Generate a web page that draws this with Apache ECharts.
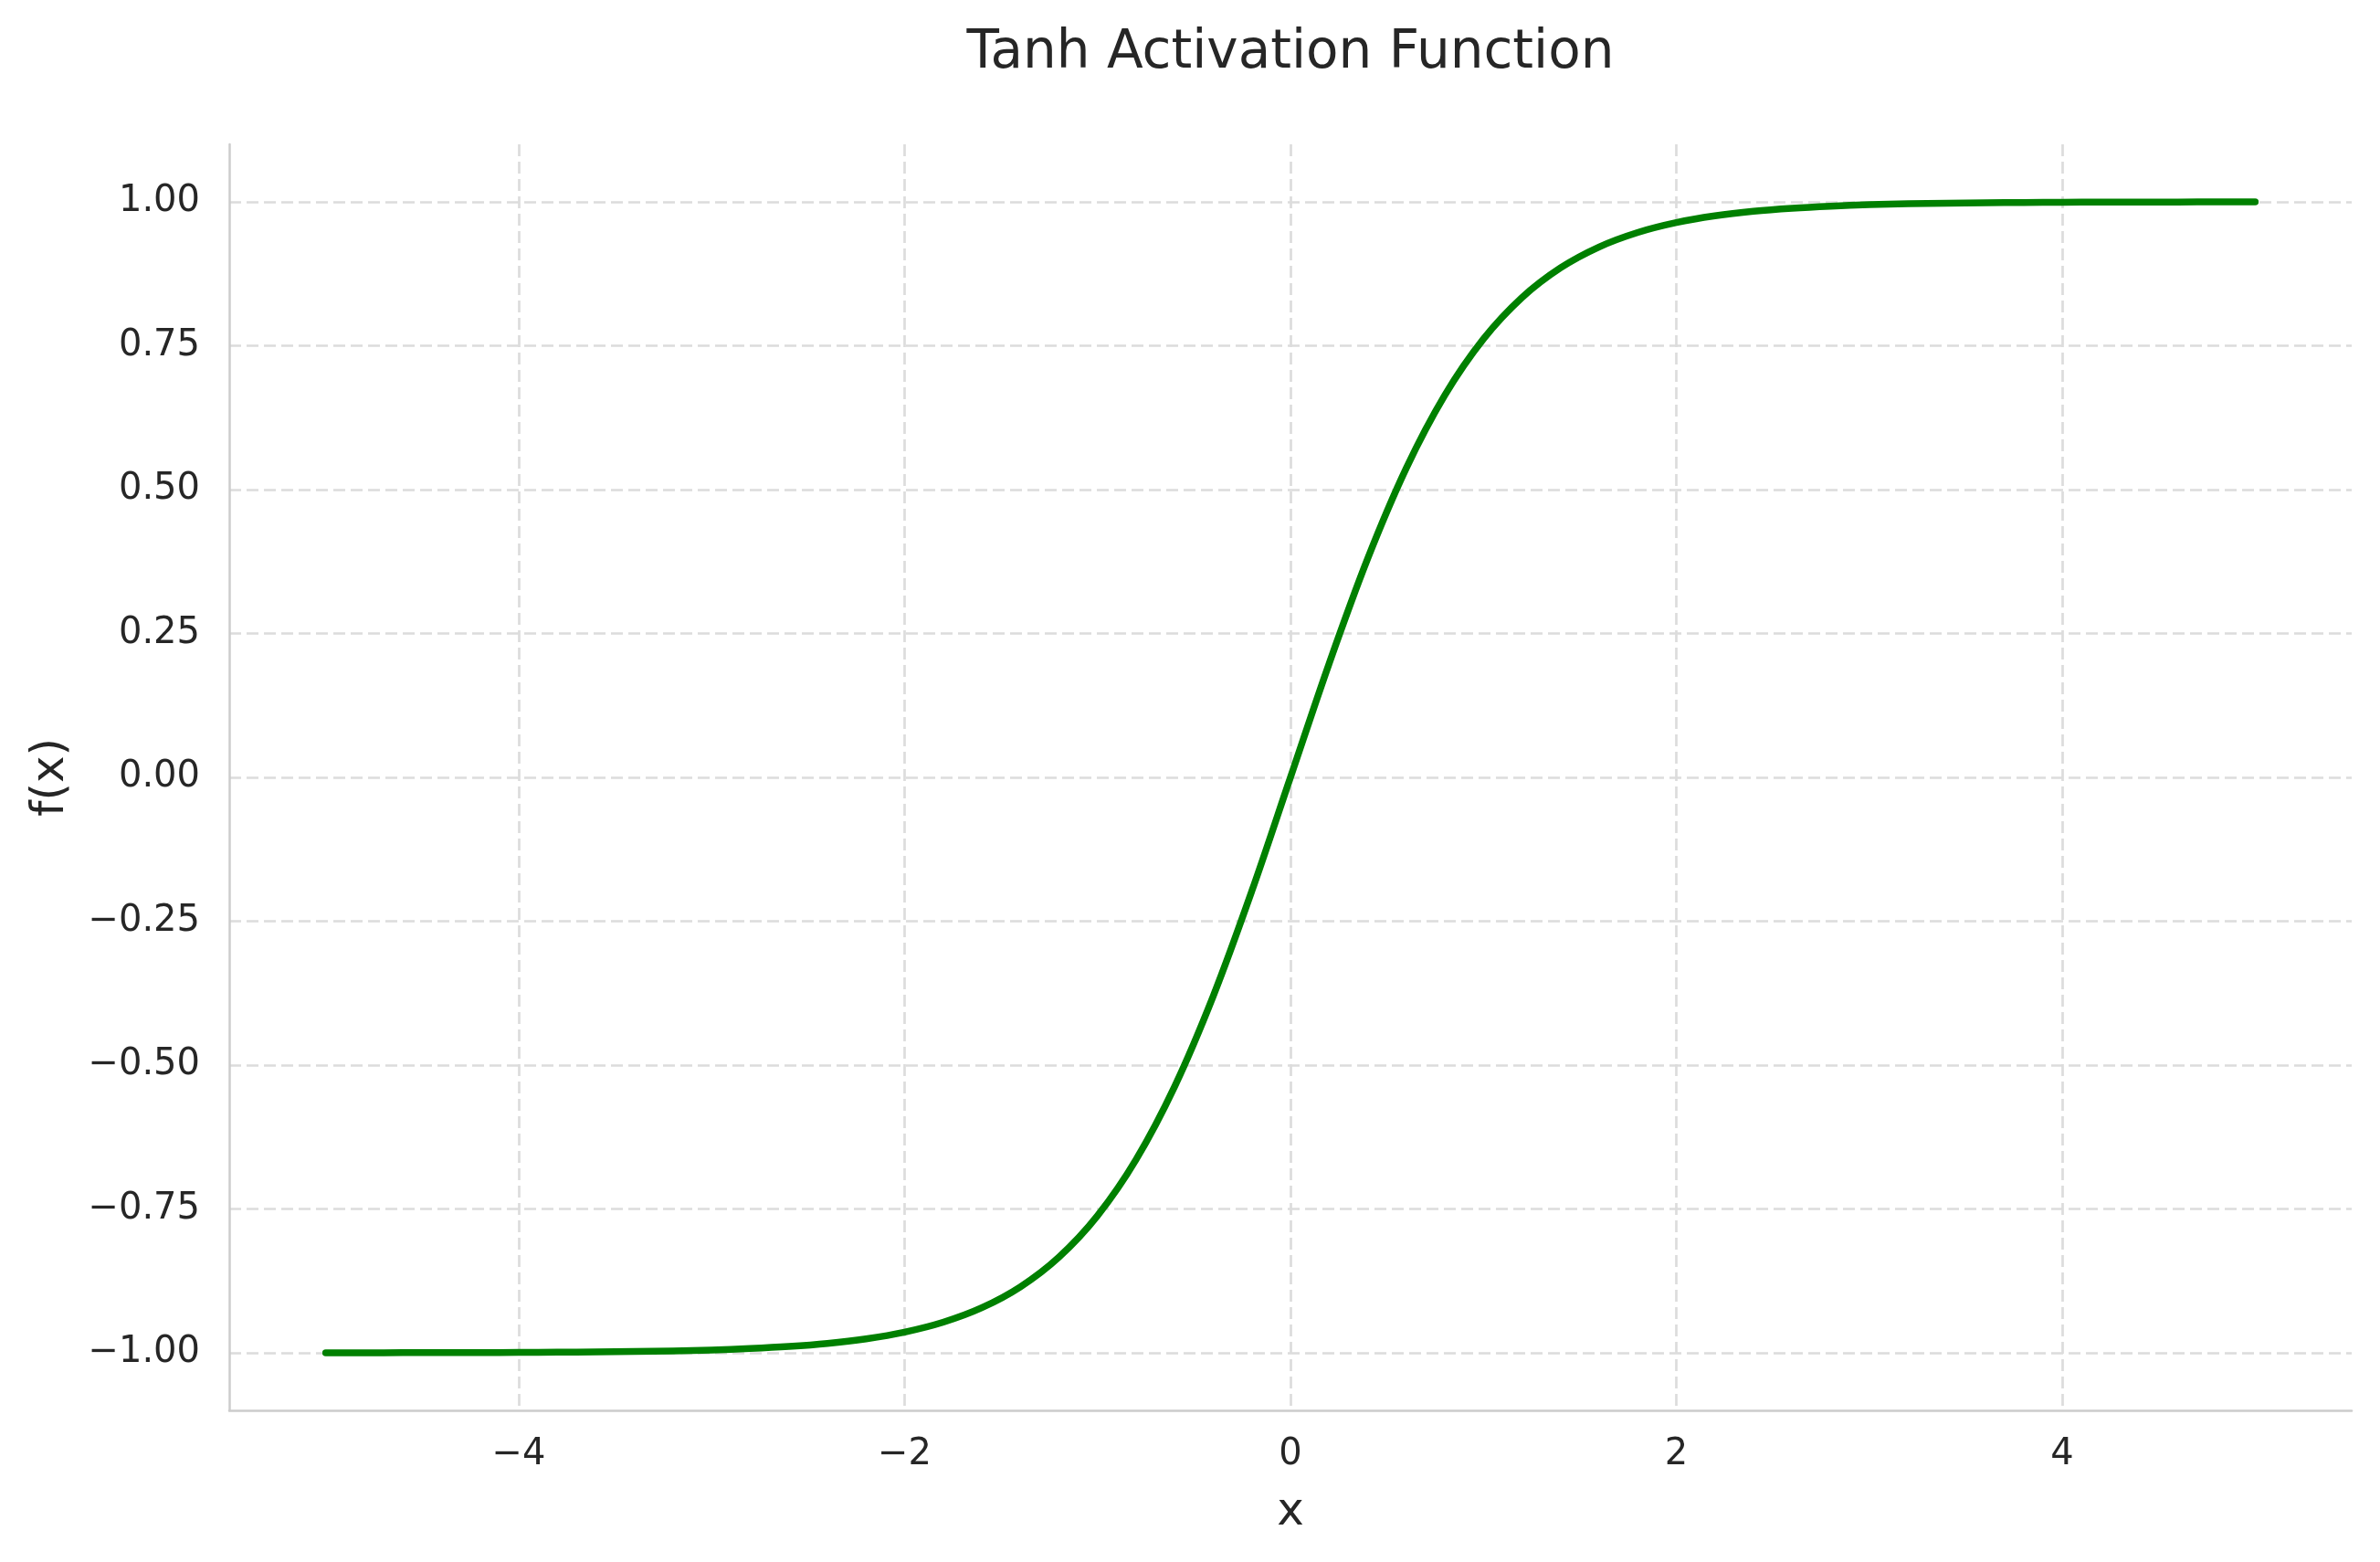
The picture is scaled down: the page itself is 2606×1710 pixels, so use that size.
<!DOCTYPE html>
<html>
<head>
<meta charset="utf-8">
<script src="https://cdn.jsdelivr.net/npm/echarts@6/dist/echarts.min.js"></script>
<style>
  html, body { margin: 0; padding: 0; background: #ffffff; }
  #chart { width: 2606px; height: 1710px; }
</style>
</head>
<body>
<div id="chart"></div>
<script>
// x positions
const xValues = [
  -5.0, -4.8, -4.6, -4.4, -4.2, -4.0, -3.8, -3.6, -3.4, -3.2,
  -3.0, -2.8, -2.6, -2.4, -2.2, -2.0, -1.8, -1.6, -1.4, -1.2,
  -1.0, -0.8, -0.6, -0.4, -0.2, 0.0, 0.2, 0.4, 0.6, 0.8,
  1.0, 1.2, 1.4, 1.6, 1.8, 2.0, 2.2, 2.4, 2.6, 2.8,
  3.0, 3.2, 3.4, 3.6, 3.8, 4.0, 4.2, 4.4, 4.6, 4.8, 5.0
];
// f(x) values
const fValues = [
  -0.9999, -0.9999, -0.9998, -0.9997, -0.9996, -0.9993, -0.9990, -0.9985, -0.9978, -0.9967,
  -0.9951, -0.9926, -0.9890, -0.9837, -0.9757, -0.9640, -0.9468, -0.9217, -0.8854, -0.8337,
  -0.7616, -0.6640, -0.5370, -0.3799, -0.1974, 0.0000, 0.1974, 0.3799, 0.5370, 0.6640,
  0.7616, 0.8337, 0.8854, 0.9217, 0.9468, 0.9640, 0.9757, 0.9837, 0.9890, 0.9926,
  0.9951, 0.9967, 0.9978, 0.9985, 0.9990, 0.9993, 0.9996, 0.9997, 0.9998, 0.9999, 0.9999
];
const xTicks = [-4, -2, 0, 2, 4];
const yTicks = [-1.0, -0.75, -0.5, -0.25, 0.0, 0.25, 0.5, 0.75, 1.0];

const titleText = 'Tanh Activation Function';
const xName = 'x';
const yName = 'f(x)';

const FONT = 'DejaVu Sans';
const TEXT = '#262626';
const minus = s => s.replace('-', '\u2212');

const points = xValues.map((x, i) => [x, fValues[i]]);

const chart = echarts.init(document.getElementById('chart'), null, { renderer: 'canvas' });
chart.setOption({
  backgroundColor: '#ffffff',
  animation: false,
  title: {
    text: titleText,
    left: 1408,
    top: 25,
    textAlign: 'center',
    textStyle: { fontFamily: FONT, fontSize: 58, fontWeight: 'normal', color: TEXT }
  },
  grid: { left: 251, right: 31, top: 158, bottom: 166, containLabel: false },
  xAxis: {
    type: 'value',
    min: -5.5,
    max: 5.5,
    name: xName,
    nameLocation: 'middle',
    nameGap: 87,
    nameTextStyle: { fontFamily: FONT, fontSize: 50, color: TEXT },
    axisLine: { show: true, onZero: false, lineStyle: { color: '#cccccc', width: 2.5 } },
    axisTick: { show: false, customValues: xTicks },
    axisLabel: {
      customValues: xTicks,
      fontFamily: FONT, fontSize: 40, color: TEXT, margin: 29,
      formatter: v => minus(String(v))
    },
    splitLine: { show: true, lineStyle: { color: '#dcdcdc', width: 2.7, type: [13, 6] } }
  },
  yAxis: {
    type: 'value',
    min: -1.1,
    max: 1.1,
    name: yName,
    nameLocation: 'middle',
    nameRotate: 90,
    nameGap: 170,
    nameTextStyle: { fontFamily: FONT, fontSize: 50, color: TEXT },
    axisLine: { show: true, onZero: false, lineStyle: { color: '#cccccc', width: 2.5 } },
    axisTick: { show: false, customValues: yTicks },
    axisLabel: {
      customValues: yTicks,
      fontFamily: FONT, fontSize: 40, color: TEXT, margin: 32,
      formatter: v => minus(Number(v).toFixed(2))
    },
    splitLine: { show: true, lineStyle: { color: '#dcdcdc', width: 2.7, type: [13, 6] } }
  },
  series: [{
    type: 'line',
    data: points,
    showSymbol: false,
    smooth: 0.35,
    lineStyle: { color: '#008000', width: 7.5, cap: 'round', join: 'round' },
    itemStyle: { color: '#008000' },
    z: 5
  }]
});
</script>
</body>
</html>
